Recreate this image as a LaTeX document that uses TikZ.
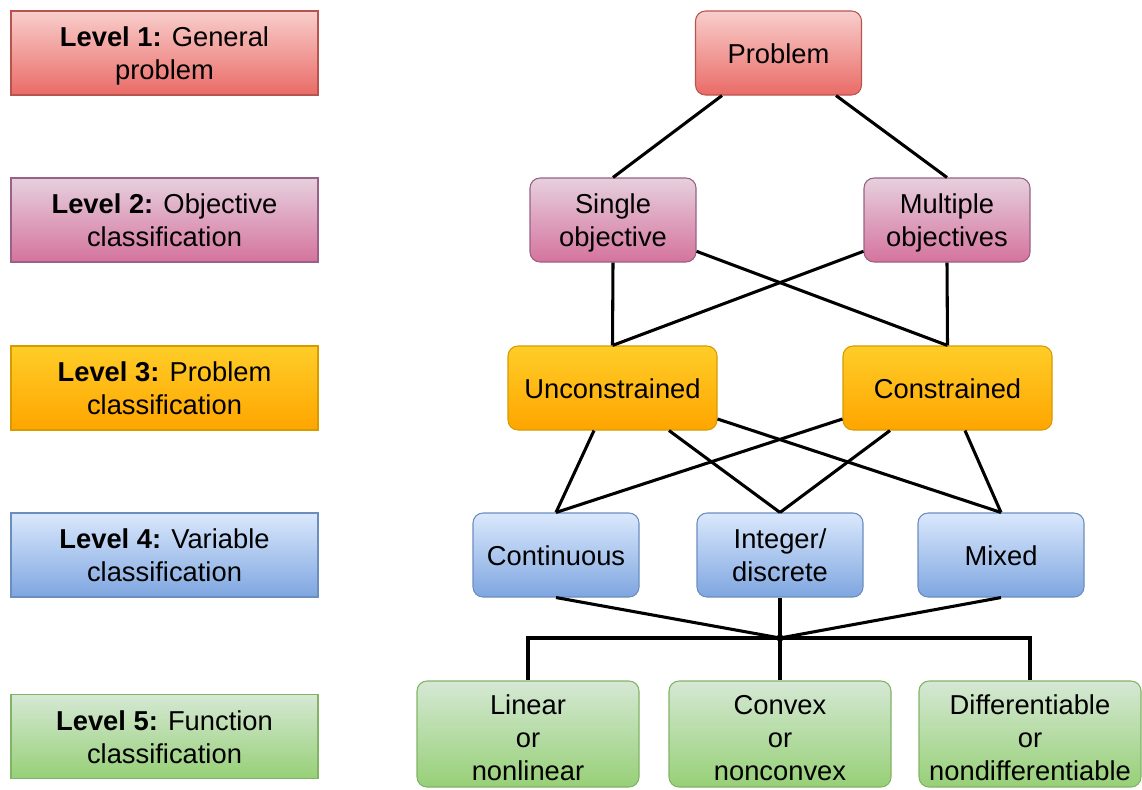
\documentclass[tikz,border=0pt]{standalone}
\usepackage{fontspec}
\setmainfont{Liberation Sans}
\usetikzlibrary{calc}

% draw.io-like palette: fill top / fill bottom / stroke
\definecolor{redT}{HTML}{F8CECC}\definecolor{redB}{HTML}{EA6B66}\definecolor{redS}{HTML}{B85450}
\definecolor{pinkT}{HTML}{E6D0DE}\definecolor{pinkB}{HTML}{D5739D}\definecolor{pinkS}{HTML}{996185}
\definecolor{orgT}{HTML}{FFCD28}\definecolor{orgB}{HTML}{FFA500}\definecolor{orgS}{HTML}{D79B00}
\definecolor{bluT}{HTML}{DAE8FC}\definecolor{bluB}{HTML}{7EA6E0}\definecolor{bluS}{HTML}{6C8EBF}
\definecolor{grnT}{HTML}{D5E8D4}\definecolor{grnB}{HTML}{97D077}\definecolor{grnS}{HTML}{82B366}

\tikzset{
  base/.style={rectangle, align=center, inner sep=0pt, line width=0.8pt,
    font=\fontsize{20.5pt}{24.75pt}\selectfont},
  levelbox/.style={base, minimum width=230.25pt, minimum height=63pt},
  item/.style={base, rounded corners=7.5pt, minimum width=124.5pt, minimum height=63pt},
  wideitem/.style={item, minimum width=156.75pt},
  leafitem/.style={item, minimum width=166.5pt, minimum height=79.5pt},
  cred/.style={top color=redT, bottom color=redB, draw=redS},
  cpink/.style={top color=pinkT, bottom color=pinkB, draw=pinkS},
  corg/.style={top color=orgT, bottom color=orgB, draw=orgS},
  cblu/.style={top color=bluT, bottom color=bluB, draw=bluS},
  cgrn/.style={top color=grnT, bottom color=grnB, draw=grnS},
  link/.style={draw=black, line width=2.3pt},
}

% centred lines of text, set a little below the box centre
\newcommand{\txt}[2][2.6pt]{\raisebox{-#1}[\height][\depth]{\begin{tabular}{@{}c@{}}#2\end{tabular}}}

\begin{document}
\begin{tikzpicture}[x=0.75pt, y=-0.75pt]
\useasboundingbox (0,0) rectangle (1142,789);

% level captions
\node[levelbox, cred]  (l1) at (164.5,53)    {\txt{\textbf{Level 1:} General\\problem}};
\node[levelbox, cpink] (l2) at (164.5,220)   {\txt{\textbf{Level 2:} Objective\\classification}};
\node[levelbox, corg]  (l3) at (164.5,388)   {\txt{\textbf{Level 3:} Problem\\classification}};
\node[levelbox, cblu]  (l4) at (164.5,555)   {\txt{\textbf{Level 4:} Variable\\classification}};
\node[levelbox, cgrn]  (l5) at (164.5,736.5) {\txt{\textbf{Level 5:} Function\\classification}};

% hierarchy
\node[item, cred]      (prob)   at (778.5,53) {\txt{Problem}};
\node[item, cpink]     (single) at (613,220)  {\txt{Single\\objective}};
\node[item, cpink]     (multi)  at (947,220)  {\txt{Multiple\\objectives}};
\node[wideitem, corg]  (unc)    at (612.5,388) {\txt{Unconstrained}};
\node[wideitem, corg]  (con)    at (947.5,388) {\txt{Constrained}};
\node[item, cblu]      (cont)   at (556,555)  {\txt{Continuous}};
\node[item, cblu]      (intg)   at (780,555)  {\txt{Integer/\\discrete}};
\node[item, cblu]      (mix)    at (1001,555) {\txt{Mixed}};
\node[leafitem, cgrn]  (lin)    at (528,734)  {\txt[5pt]{Linear\\or\\nonlinear}};
\node[leafitem, cgrn]  (cvx)    at (780,734)  {\txt[5pt]{Convex\\or\\nonconvex}};
\node[leafitem, cgrn]  (dif)    at (1030,734) {\txt[5pt]{Differentiable\\or\\nondifferentiable}};

\node[circle, fill=black, inner sep=0pt, minimum size=5.5pt] (jn) at (780,638) {};

% level 1 -> 2
\draw[link] ($(prob.south)+(-56.5,0)$) -- (single.north);
\draw[link] ($(prob.south)+(57.5,0)$) -- (multi.north);
% level 2 -> 3
\draw[link] (single.south) -- (unc.north);
\draw[link] (single) -- (con.north);
\draw[link] (multi) -- (unc.north);
\draw[link] (multi.south) -- (con.north);
% level 3 -> 4
\draw[link] ($(unc.south)+(-18.5,0)$) -- (cont.north);
\draw[link] ($(unc.south)+(56.5,0)$) -- (intg.north);
\draw[link] ($(unc.east)+(0,31)$) -- (mix.north);
\draw[link] ($(con.west)+(0,31)$) -- (cont.north);
\draw[link] ($(con.south)+(-57.5,0)$) -- (intg.north);
\draw[link] ($(con.south)+(17.5,0)$) -- (mix.north);
% level 4 -> 5 through the common junction
\draw[link] (cont.south) -- (jn.center);
\draw[link] (intg.south) -- (jn.center);
\draw[link] (mix.south) -- (jn.center);
\draw[link] (jn.center) -| (lin.north);
\draw[link] (jn.center) -- (cvx.north);
\draw[link] (jn.center) -| (dif.north);
\end{tikzpicture}
\end{document}
